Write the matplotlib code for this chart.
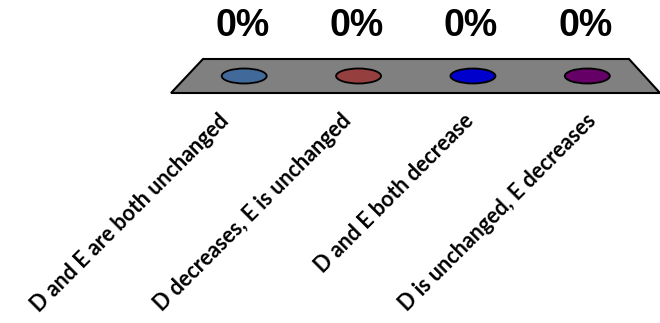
import numpy as np
import matplotlib.pyplot as plt
from matplotlib.patches import Polygon, Ellipse, Rectangle

categories = [
    "D and E are both unchanged",
    "D decreases, E is unchanged",
    "D and E both decrease",
    "D is unchanged, E decreases",
]
percentages = [0, 0, 0, 0]
bar_colors = ["#416a9b", "#953f3e", "#0000cc", "#650066"]

W, H = 660, 323
FRONT_Y, BACK_Y = 93, 59      # floor front / back edge (px)
FRONT_X = (171, 660)
BACK_X = (203, 629)
MAX_BAR = 150                 # px for 100%


def project(slot, depth, height=0.0):
    """slot 0..n across the floor, depth 0 (front) .. 1 (back), height px up."""
    n = len(categories)
    left = FRONT_X[0] + (BACK_X[0] - FRONT_X[0]) * depth
    right = FRONT_X[1] + (BACK_X[1] - FRONT_X[1]) * depth
    x = left + (right - left) * slot / n
    y = FRONT_Y + (BACK_Y - FRONT_Y) * depth - height
    return x, y


fig = plt.figure(figsize=(W / 100, H / 100), dpi=100)
ax = fig.add_axes([0, 0, 1, 1])
ax.set_xlim(0, W)
ax.set_ylim(H, 0)
ax.axis("off")

n = len(categories)
floor = [project(0, 0), project(0, 1), project(n, 1), project(n, 0)]
ax.add_patch(Polygon(floor, closed=True, facecolor="#808080",
                     edgecolor="black", linewidth=1.5, zorder=1))

for i, (val, col) in enumerate(zip(percentages, bar_colors)):
    cx, cy = project(i + 0.5, 0.5)
    h = val / 100 * MAX_BAR
    if h > 0:
        ax.add_patch(Rectangle((cx - 22.5, cy - h), 45, h, facecolor=col,
                               edgecolor="black", linewidth=1.2, zorder=2))
        ax.add_patch(Ellipse((cx, cy), 45, 15, facecolor=col,
                             edgecolor="black", linewidth=1.2, zorder=2))
    ax.add_patch(Ellipse((cx, cy - h), 45, 15, facecolor=col,
                         edgecolor="black", linewidth=1.3, zorder=3))
    ax.text(cx - 2, cy - h - 50, f"{val}%", ha="center", va="center",
            fontsize=27, fontweight="bold", family="Liberation Sans")

    fx, fy = project(i + 0.5, 0)
    ax.text(fx - 14, fy + 17, categories[i], rotation=45, rotation_mode="anchor",
            ha="right", va="top", fontsize=15.5, fontweight="bold",
            family="Lato")

fig.savefig("out.png", dpi=100)
